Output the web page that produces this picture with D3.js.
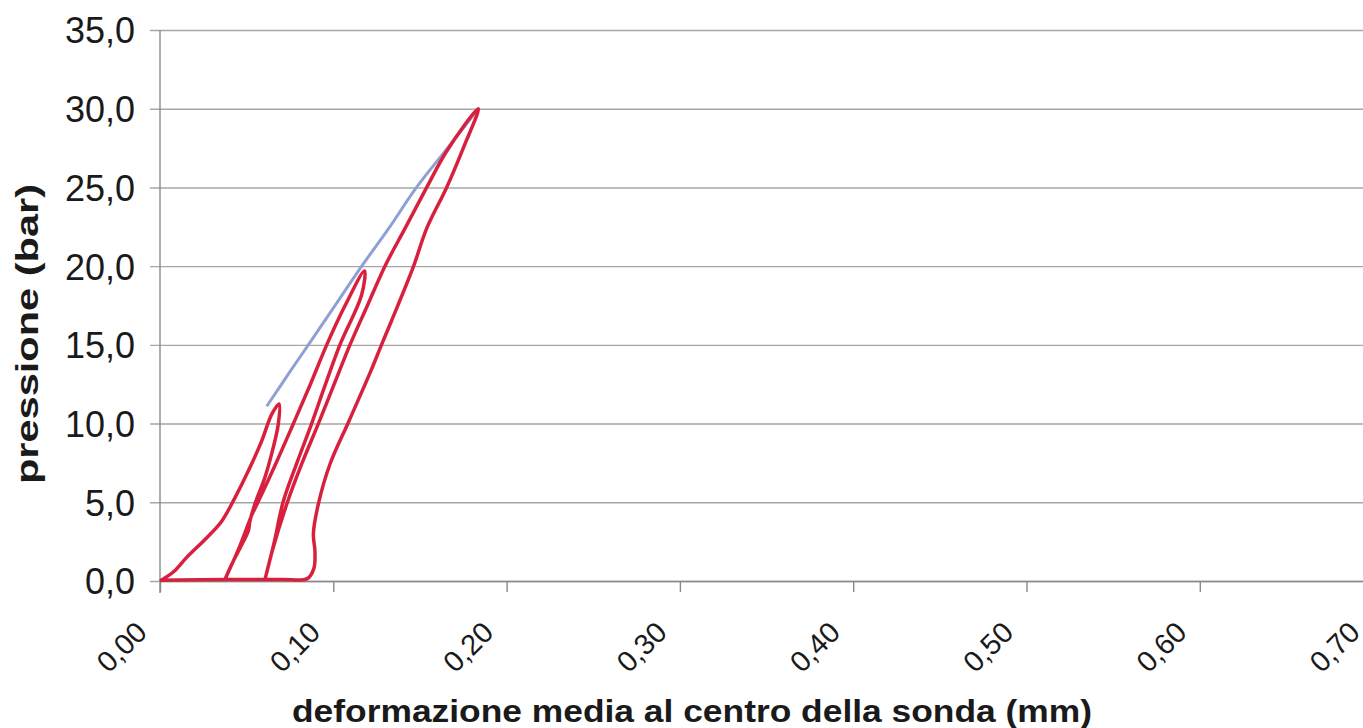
<!DOCTYPE html>
<html>
<head>
<meta charset="utf-8">
<script src="https://cdnjs.cloudflare.com/ajax/libs/d3/7.8.5/d3.min.js"></script>
<style>
  html, body { margin: 0; padding: 0; background: #fff; }
  svg { display: block; }
  text { font-family: "Liberation Sans", Arial, Helvetica, sans-serif; fill: #1a1a1a; }
</style>
</head>
<body>
<div id="chart"></div>
<script>
// ticks
const xTicks = [0, 0.1, 0.2, 0.3, 0.4, 0.5, 0.6, 0.7];
const yTicks = [0, 5, 10, 15, 20, 25, 30, 35];

// red series: load / unload cycles, [deformazione mm, pressione bar]
const cycle1Load = [[0, 0], [0.008, 0.6], [0.0154, 1.5], [0.027, 2.75], [0.0356, 3.8], [0.0433, 5.3],
  [0.051, 7.0], [0.0587, 8.9], [0.0645, 10.6], [0.0687, 11.25]];
const cycle1Unload = [[0.0683, 10.0], [0.0654, 8.5], [0.0606, 6.6], [0.0548, 4.9], [0.0519, 3.8],
  [0.051, 3.2], [0.0462, 2.1], [0.0414, 1.06], [0.0375, 0.1]];
const cycle2Load = [[0.046, 2.2], [0.053, 4.2], [0.0565, 5], [0.067, 7.5], [0.077, 10], [0.0868, 12.5],
  [0.0962, 15], [0.1068, 17.5], [0.118, 19.7]];
const cycle2Unload = [[0.1164, 18.2], [0.1038, 15], [0.0955, 12.5], [0.0875, 10], [0.079, 7.5],
  [0.071, 5], [0.066, 2.5], [0.0606, 0.1]];
const cycle3Load = [[0.065, 2], [0.0735, 5], [0.082, 7.5], [0.0914, 10], [0.1005, 12.5], [0.1096, 15],
  [0.1197, 17.5], [0.1298, 20], [0.1414, 22.4], [0.1539, 25], [0.1654, 27.3], [0.1837, 30]];
const cycle3Unload = [[0.175, 27.5], [0.1654, 25], [0.1539, 22.4], [0.146, 19.9], [0.1335, 16.5],
  [0.1278, 15], [0.1215, 13.3], [0.1092, 10.2], [0.098, 7.4], [0.0914, 4.9], [0.0885, 3.0],
  [0.0894, 1.9], [0.0888, 0.8], [0.085, 0.15], [0.07, 0.1], [0.04, 0.1], [0, 0.05]];

// blue series
const envelope = [[0.0616, 11.1], [0.075, 13.3], [0.0856, 15], [0.101, 17.5], [0.1164, 20],
  [0.132, 22.4], [0.148, 25], [0.1652, 27.4], [0.1837, 30]];

const W = 1363, H = 728;
const plotLeft = 160, plotTop = 30, plotBottom = 581;

const svg = d3.select("#chart").append("svg")
  .attr("width", W)
  .attr("height", H);

const x = d3.scaleLinear().domain([0, 0.7]).range([plotLeft, plotLeft + 7 * 173.3]);
const y = d3.scaleLinear().domain([0, 35]).range([plotBottom, plotTop]);

const comma = f => d => d3.format(f)(d).replace(".", ",");

// y axis + gridlines
const yAxis = svg.append("g")
  .attr("transform", `translate(${plotLeft},0)`)
  .call(d3.axisLeft(y).tickValues(yTicks).tickSize(-(W - plotLeft)).tickSizeOuter(0)
    .tickPadding(25).tickFormat(comma(".1f")));
yAxis.select(".domain").remove();
yAxis.selectAll(".tick line")
  .attr("x1", -10)
  .attr("stroke", "#a6a6a6")
  .attr("stroke-width", 1.4);
yAxis.selectAll(".tick text")
  .style("font-size", "36px")
  .attr("dy", "0.36em");

svg.append("line")
  .attr("x1", plotLeft).attr("x2", plotLeft)
  .attr("y1", plotTop).attr("y2", plotBottom + 12)
  .attr("stroke", "#8a8a8a")
  .attr("stroke-width", 1.4);

// x axis
const xAxis = svg.append("g")
  .attr("transform", `translate(0,${plotBottom})`)
  .call(d3.axisBottom(x).tickValues(xTicks).tickSize(11).tickSizeOuter(0)
    .tickFormat(comma(".2f")));
xAxis.select(".domain")
  .attr("stroke", "#8a8a8a")
  .attr("stroke-width", 1.4);
xAxis.selectAll(".tick line")
  .attr("stroke", "#8a8a8a")
  .attr("stroke-width", 1.4);
xAxis.selectAll(".tick text")
  .style("font-size", "29px")
  .attr("text-anchor", "end")
  .attr("x", 0).attr("y", 0).attr("dy", "0.35em")
  .attr("transform", "translate(-19,46) rotate(-45)");

// series
const line = d3.line()
  .x(d => x(d[0]))
  .y(d => y(d[1]))
  .curve(d3.curveCatmullRom.alpha(0.5));

svg.append("path")
  .datum(envelope)
  .attr("d", line)
  .attr("fill", "none")
  .attr("stroke", "#8fa0d4")
  .attr("stroke-width", 3);

const redSeries = [].concat(cycle1Load, cycle1Unload, cycle2Load, cycle2Unload, cycle3Load, cycle3Unload);
svg.append("path")
  .datum(redSeries)
  .attr("d", line)
  .attr("fill", "none")
  .attr("stroke", "#d8203e")
  .attr("stroke-width", 3.5)
  .attr("stroke-linejoin", "round");

// titles
svg.append("text")
  .attr("transform", "translate(38,334) rotate(-90)")
  .attr("text-anchor", "middle")
  .attr("textLength", 300)
  .attr("lengthAdjust", "spacingAndGlyphs")
  .style("font-size", "32px")
  .style("font-weight", "bold")
  .text("pressione (bar)");

svg.append("text")
  .attr("x", 692)
  .attr("y", 722)
  .attr("text-anchor", "middle")
  .attr("textLength", 800)
  .attr("lengthAdjust", "spacingAndGlyphs")
  .style("font-size", "32px")
  .style("font-weight", "bold")
  .text("deformazione media al centro della sonda (mm)");
</script>
</body>
</html>
